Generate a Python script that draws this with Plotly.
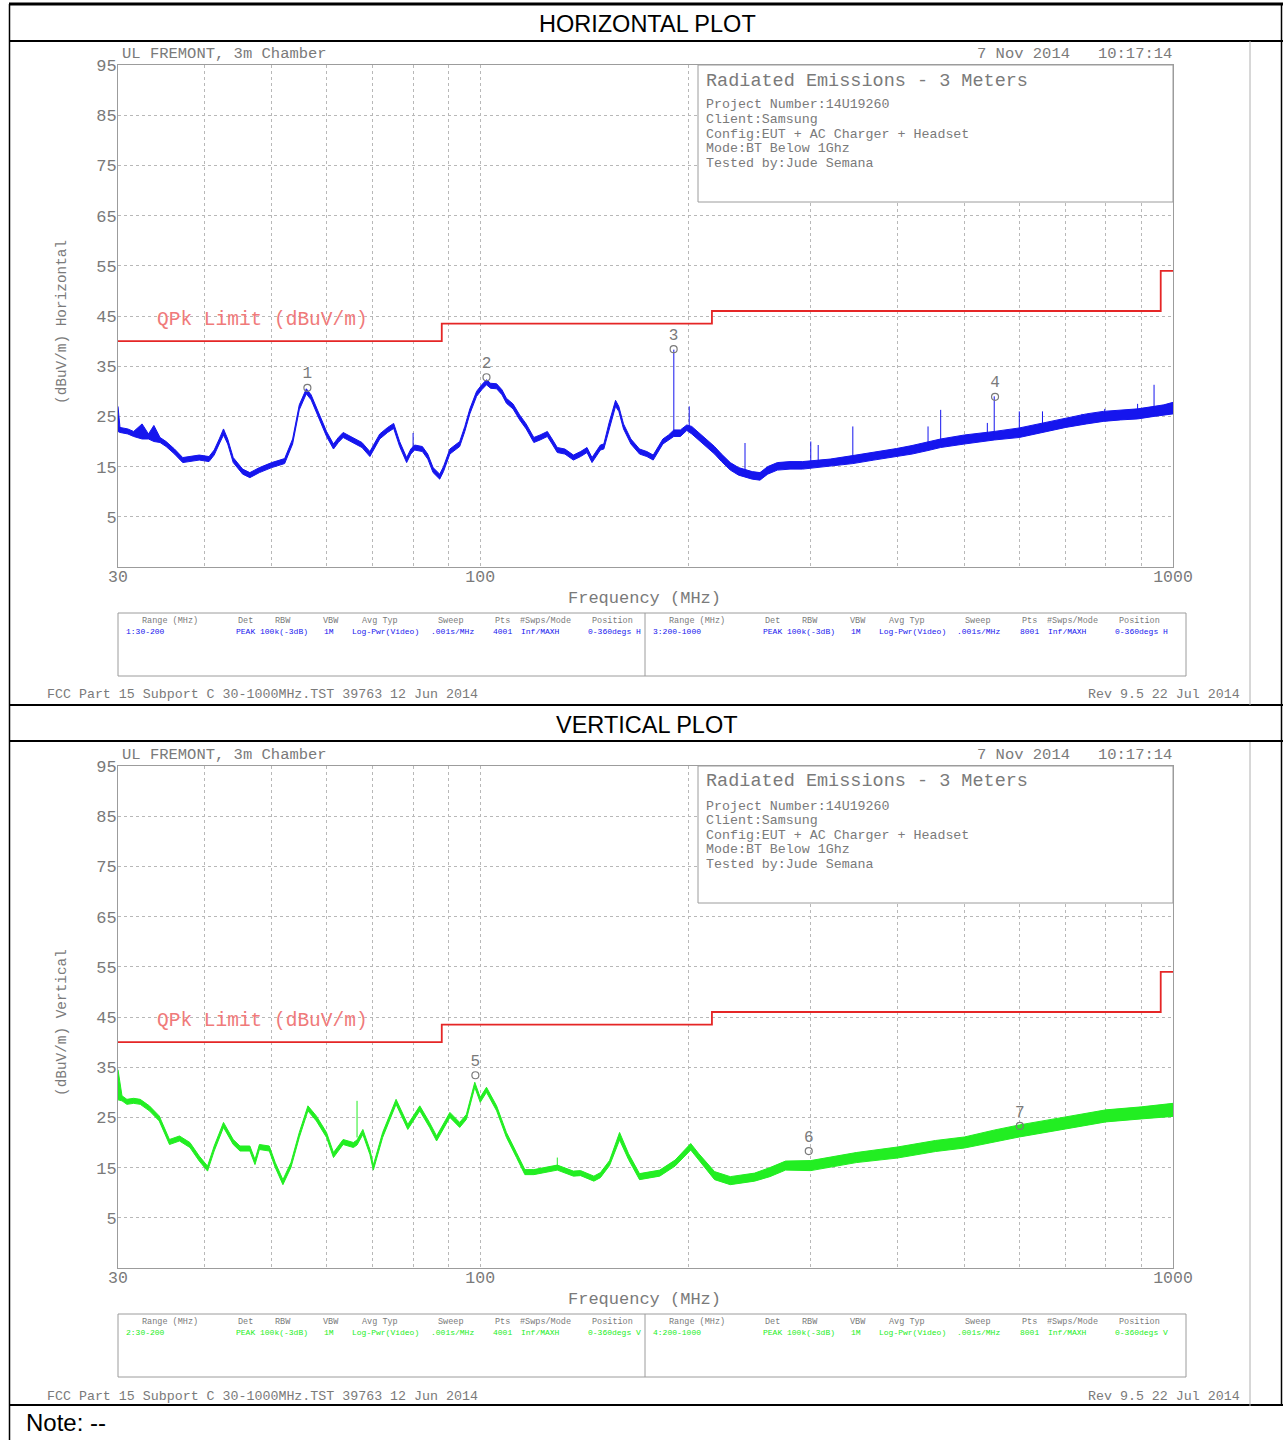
import math
import plotly.graph_objects as go

# ---------------- data ----------------
# grid / tick definition (MHz)
grid_f = [30, 40, 50, 60, 70, 80, 90, 100, 200, 300, 400, 500, 600, 700, 800, 900, 1000]
grid_lbl = ["30", "", "", "", "", "", "", "100", "", "", "", "", "", "", "", "", "1000"]
y_ticks = [5, 15, 25, 35, 45, 55, 65, 75, 85, 95]

# QPk limit (dBuV/m)
lim_f = [30, 88, 88, 216, 216, 960, 960, 1000]
lim_v = [40, 40, 43.5, 43.5, 46, 46, 54, 54]

# Horizontal trace: frequency (MHz), lower and upper edge of the trace band (dBuV/m)
h_f = [30.0, 30.2, 31.0, 31.6, 32.5, 33.2, 33.8, 34.5, 35.2, 36.2, 37.2, 38.2, 39.3, 40.6,
       41.3, 42.0, 42.6, 43.2, 44.0, 45.4, 46.5, 48.0, 50.0, 52.2, 53.6, 54.8, 56.1, 57.0,
       58.0, 59.0, 60.0, 61.4, 62.4, 63.4, 65.6, 67.5, 69.3, 70.5, 71.6, 73.5, 75.0, 76.5,
       78.3, 79.4, 80.4, 82.5, 84.0, 85.5, 87.4, 88.5, 90.4, 93.4, 95.0, 96.6, 98.8, 100.5,
       102.1, 103.5, 105.6, 107.5, 109.1, 111.5, 114.0, 116.5, 119.5, 122.0, 125.0, 127.0,
       129.2, 132.5, 136.3, 139.6, 142.6, 145.0, 149.1, 150.8, 153.5, 156.8, 158.5, 161.0,
       165.0, 169.8, 174.0, 177.7, 183.5, 187.0, 190.3, 194.5, 198.7, 202.0, 206.7, 212.0,
       217.9, 223.0, 229.6, 236.0, 241.9, 247.0, 253.4, 260.0, 268.5, 280.0, 291.9, 305.0,
       320.0, 345.0, 370.0, 399.0, 420.0, 442.9, 461.9, 500.0, 530.0, 552.0, 600.0, 648.0,
       700.0, 750.0, 793.0, 840.0, 889.0, 939.0, 970.0, 1000.0]
h_lo = [22.0, 21.8, 21.5, 21.0, 20.5, 20.5, 20.0, 19.8, 19.0, 17.5, 15.8, 16.0, 16.3, 16.0,
        17.3, 19.5, 21.3, 19.5, 15.8, 13.5, 12.8, 13.8, 14.8, 15.6, 19.5, 26.3, 29.5, 28.3,
        25.8, 23.5, 21.0, 18.5, 19.8, 20.8, 19.8, 18.8, 17.0, 19.0, 20.5, 21.8, 22.6, 19.0,
        15.8, 17.5, 18.3, 18.0, 16.5, 13.8, 12.5, 14.0, 17.5, 19.0, 22.0, 25.5, 29.0, 30.3,
        31.3, 30.6, 30.5, 29.3, 27.6, 26.5, 24.3, 22.5, 19.8, 20.3, 21.0, 19.5,
        17.8, 17.5, 16.3, 17.0, 17.8, 15.8, 18.3, 18.5, 22.5, 27.0, 26.0, 22.5,
        19.5, 17.5, 17.0, 16.3, 19.5, 20.3, 21.0, 21.0, 22.2, 21.5, 20.3, 19.0,
        17.5, 16.0, 14.3, 13.3, 12.8, 12.5, 12.3, 13.5, 14.3, 14.5, 14.5, 14.8,
        15.0, 15.6, 16.3, 17.0, 17.5, 18.2, 18.8, 19.5, 20.0, 20.3, 20.8, 21.8,
        22.8, 23.5, 24.0, 24.3, 24.5, 25.0, 25.3, 25.5]
h_hi = [27.0, 22.8, 22.5, 22.0, 23.5, 21.5, 23.2, 20.8, 20.0, 18.5, 16.8, 17.0, 17.3, 17.0,
        18.3, 20.5, 22.5, 20.5, 16.8, 14.5, 13.8, 14.8, 15.8, 16.6, 20.5, 27.3, 30.5, 29.3,
        26.8, 24.5, 22.0, 19.5, 20.8, 21.8, 20.8, 19.8, 18.0, 20.0, 21.5, 22.8, 23.6, 20.0,
        16.8, 18.5, 19.3, 19.0, 17.5, 14.8, 13.5, 15.0, 18.5, 20.0, 23.0, 26.5, 30.0, 31.3,
        32.3, 31.6, 31.5, 30.3, 28.6, 27.5, 25.3, 23.5, 20.8, 21.3, 22.0, 20.5,
        18.8, 18.5, 17.3, 18.0, 18.8, 16.8, 19.3, 19.5, 23.8, 28.2, 27.0, 23.5,
        20.5, 18.5, 18.0, 17.3, 20.5, 21.3, 22.3, 22.3, 23.3, 23.0, 21.8, 20.5,
        19.0, 17.5, 15.8, 14.8, 14.3, 14.0, 13.8, 15.0, 15.8, 16.0, 16.0, 16.3,
        16.5, 17.2, 17.8, 18.6, 19.2, 19.9, 20.5, 21.3, 21.8, 22.0, 22.7, 23.7,
        24.7, 25.5, 26.0, 26.3, 26.5, 27.0, 27.3, 27.8]
# narrow spikes on the horizontal trace
h_sp_f = [80.0, 190.3, 200.3, 241.1, 300.0, 307.5, 345.0, 443.0, 462.0, 539.5, 552.0,
          600.0, 648.0, 739.0, 797.0, 889.0, 939.0]
h_sp_base = [18.5, 21.5, 22.5, 14.0, 15.3, 15.3, 16.5, 19.0, 19.7, 21.0, 21.0,
             21.7, 22.7, 24.0, 25.0, 25.5, 26.0]
h_sp_top = [21.7, 38.3, 27.0, 19.7, 20.0, 19.3, 23.0, 23.0, 26.3, 23.7, 29.0,
            26.0, 26.0, 25.5, 26.5, 27.5, 31.3]
# measured markers (horizontal)
h_mk_id = ["1", "2", "3", "4"]
h_mk_f = [56.3, 102.1, 190.2, 553.5]
h_mk_v = [30.7, 32.8, 38.4, 28.9]

# Vertical trace
v_f = [30.0, 30.4, 30.9, 31.6, 32.3, 33.3, 34.4, 35.0, 35.6, 36.8, 38.1, 39.3, 40.4, 41.3,
       42.6, 44.0, 45.0, 46.5, 47.3, 48.0, 49.6, 50.6, 51.9, 53.3, 54.8, 56.4, 58.0, 60.0,
       61.4, 63.4, 65.6, 66.4, 67.7, 69.3, 70.1, 72.3, 75.6, 78.6, 81.8, 84.5, 86.5, 90.4,
       93.4, 95.5, 98.2, 100.0, 102.1, 105.6, 109.1, 112.8, 116.0, 119.5, 124.0, 129.2,
       136.3, 139.6, 145.9, 149.1, 153.7, 158.9, 163.7, 169.8, 181.6, 191.1, 201.3, 206.7,
       217.9, 229.6, 248.9, 261.9, 275.9, 300.0, 349.0, 400.0, 454.0, 500.0, 553.0, 600.0,
       700.0, 800.0, 900.0, 1000.0]
v_lo = [28.5, 28.3, 27.6, 27.8, 27.6, 26.3, 24.3, 22.0, 19.6, 20.3, 19.0, 16.3, 14.3, 18.3,
        23.0, 19.6, 18.3, 18.3, 15.6, 18.6, 18.3, 15.0, 11.6, 15.0, 21.0, 26.3, 24.3, 21.0,
        17.0, 19.6, 19.0, 19.5, 21.6, 17.6, 14.5, 21.0, 27.6, 22.6, 26.3, 23.0, 20.3, 25.0,
        23.0, 24.6, 31.0, 28.0, 30.0, 26.3, 21.0, 17.0, 13.6, 13.6, 14.0, 14.5,
        13.3, 13.4, 12.3, 13.0, 15.4, 20.5, 16.6, 12.6, 13.3, 15.3, 18.5, 16.5,
        12.6, 11.6, 12.3, 13.2, 14.5, 14.4, 16.0, 16.9, 18.2, 18.9, 20.1, 21.1,
        22.7, 24.1, 24.7, 25.2]
v_hi = [34.5, 29.3, 28.6, 28.8, 28.6, 27.3, 25.3, 23.0, 20.6, 21.3, 20.0, 17.3, 15.3, 19.3,
        24.0, 20.6, 19.3, 19.3, 16.6, 19.6, 19.3, 16.0, 12.6, 16.0, 22.0, 27.3, 25.3, 22.0,
        18.0, 20.6, 20.0, 20.5, 22.6, 18.6, 15.5, 22.0, 28.6, 23.6, 27.3, 24.0, 21.3, 26.0,
        24.0, 25.6, 32.0, 29.0, 31.0, 27.3, 22.0, 18.0, 14.6, 14.6, 15.0, 15.5,
        14.3, 14.4, 13.3, 14.0, 16.4, 22.0, 17.8, 13.8, 14.5, 16.5, 19.8, 17.8,
        14.2, 13.2, 13.9, 15.0, 16.3, 16.4, 18.0, 19.1, 20.4, 21.1, 22.5, 23.5,
        25.1, 26.5, 27.1, 27.8]
v_sp_f = [66.4, 129.2]
v_sp_base = [21.0, 15.3]
v_sp_top = [28.3, 17.0]
v_mk_id = ["5", "6", "7"]
v_mk_f = [98.4, 298.0, 601.0]
v_mk_v = [33.4, 18.3, 23.3]

# texts
hdr_left = "UL FREMONT, 3m Chamber"
hdr_right = "7 Nov 2014   10:17:14"
box_title = "Radiated Emissions - 3 Meters"
box_lines = ["Project Number:14U19260", "Client:Samsung", "Config:EUT + AC Charger + Headset",
             "Mode:BT Below 1Ghz", "Tested by:Jude Semana"]
footer_left = "FCC Part 15 Subport C 30-1000MHz.TST 39763 12 Jun 2014"
footer_right = "Rev 9.5 22 Jul 2014"
tbl_head = ["Range (MHz)", "Det", "RBW", "VBW", "Avg Typ", "Sweep", "Pts", "#Swps/Mode", "Position"]
tbl_h1 = ["1:30-200", "PEAK", "100k(-3dB)", "1M", "Log-Pwr(Video)", ".001s/MHz", "4001", "Inf/MAXH", "0-360degs H"]
tbl_h2 = ["3:200-1000", "PEAK", "100k(-3dB)", "1M", "Log-Pwr(Video)", ".001s/MHz", "8001", "Inf/MAXH", "0-360degs H"]
tbl_v1 = ["2:30-200", "PEAK", "100k(-3dB)", "1M", "Log-Pwr(Video)", ".001s/MHz", "4001", "Inf/MAXH", "0-360degs V"]
tbl_v2 = ["4:200-1000", "PEAK", "100k(-3dB)", "1M", "Log-Pwr(Video)", ".001s/MHz", "8001", "Inf/MAXH", "0-360degs V"]

# ---------------- figure ----------------
W, H = 1283, 1440
MONO = "Liberation Mono, DejaVu Sans Mono, monospace"
GRAY = "#7a7a7a"
BLUE = "#1515ee"
GREEN = "#22ee22"
RED = "#e52626"


def px(x):
    return x / W


def py(y):
    return 1 - y / H


fig = go.Figure()


def add_panel(xa, ya, f, lo, hi, spf, spb, spt, mkid, mkf, mkv, col):
    fig.add_trace(go.Scatter(x=lim_f, y=lim_v, mode="lines", line=dict(color=RED, width=1.8),
                             xaxis=xa, yaxis=ya, hoverinfo="skip"))
    fig.add_trace(go.Scatter(x=f, y=lo, mode="lines", line=dict(color=col, width=1),
                             xaxis=xa, yaxis=ya, hoverinfo="skip"))
    fig.add_trace(go.Scatter(x=f, y=hi, mode="lines", line=dict(color=col, width=1),
                             fill="tonexty", fillcolor=col, xaxis=xa, yaxis=ya, hoverinfo="skip"))
    sx, sy = [], []
    for a, b, c in zip(spf, spb, spt):
        sx += [a, a, None]
        sy += [b, c, None]
    fig.add_trace(go.Scatter(x=sx, y=sy, mode="lines", line=dict(color=col, width=1),
                             xaxis=xa, yaxis=ya, hoverinfo="skip"))
    fig.add_trace(go.Scatter(x=mkf, y=mkv, mode="markers+text", text=mkid,
                             textposition="top center",
                             textfont=dict(family=MONO, size=16, color=GRAY),
                             marker=dict(symbol="circle-open", size=7, color=GRAY, line=dict(width=1.2)),
                             xaxis=xa, yaxis=ya, hoverinfo="skip"))


add_panel("x", "y", h_f, h_lo, h_hi, h_sp_f, h_sp_base, h_sp_top, h_mk_id, h_mk_f, h_mk_v, BLUE)
add_panel("x2", "y2", v_f, v_lo, v_hi, v_sp_f, v_sp_base, v_sp_top, v_mk_id, v_mk_f, v_mk_v, GREEN)

xcommon = dict(type="log", range=[math.log10(30), 3], tickmode="array", tickvals=grid_f,
               ticktext=grid_lbl, showgrid=True, gridcolor="#b8b8b8", griddash="dot", gridwidth=1,
               showline=True, linecolor="#9c9c9c", linewidth=1, mirror=True, zeroline=False,
               ticks="", tickfont=dict(family=MONO, size=16.5, color=GRAY), automargin=False,
               ticklabelstandoff=-6, domain=[px(118), px(1173)])
ycommon = dict(range=[-5, 95], tickmode="array", tickvals=y_ticks, showgrid=True,
               gridcolor="#b8b8b8", griddash="dot", gridwidth=1, showline=True,
               linecolor="#9c9c9c", linewidth=1, mirror=True, zeroline=False, ticks="",
               tickfont=dict(family=MONO, size=17, color=GRAY), automargin=False,
               ticklabelstandoff=-3)

fig.update_layout(
    width=W, height=H, margin=dict(l=0, r=0, t=0, b=0), template="none",
    paper_bgcolor="white", plot_bgcolor="white", showlegend=False,
    xaxis=dict(xcommon, anchor="y"),
    yaxis=dict(ycommon, anchor="x", domain=[py(567), py(65)]),
    xaxis2=dict(xcommon, anchor="y2"),
    yaxis2=dict(ycommon, anchor="x2", domain=[py(1268), py(766)]),
)

shapes = []
ann = []


def hline(y, x0, x1, color="black", width=1):
    shapes.append(dict(type="line", xref="paper", yref="paper", x0=px(x0), x1=px(x1),
                       y0=py(y), y1=py(y), line=dict(color=color, width=width), layer="above"))


def vline(x, y0, y1, color="black", width=1):
    shapes.append(dict(type="line", xref="paper", yref="paper", x0=px(x), x1=px(x),
                       y0=py(y0), y1=py(y1), line=dict(color=color, width=width), layer="above"))


def rect(x0, y0, x1, y1, color="#9c9c9c", fill="white"):
    shapes.append(dict(type="rect", xref="paper", yref="paper", x0=px(x0), x1=px(x1),
                       y0=py(y1), y1=py(y0), line=dict(color=color, width=1), fillcolor=fill,
                       layer="above"))


def text(x, y, s, size, color=GRAY, family=MONO, xanchor="left", angle=0):
    ann.append(dict(xref="paper", yref="paper", x=px(x), y=py(y), text=s, showarrow=False,
                    xanchor=xanchor, yanchor="middle", textangle=angle,
                    font=dict(family=family, size=size, color=color)))


# page frame
hline(4, 9, 1283, width=3)
hline(41, 9, 1283, width=2)
hline(705, 9, 1283, width=2)
hline(741, 9, 1283, width=2)
hline(1405, 9, 1283, width=2)
vline(9.5, 4, 1440, width=1.5)
vline(1281.5, 4, 1405, width=1.5)

SANS = "Liberation Sans, Arial, sans-serif"
text(647, 24, "HORIZONTAL PLOT", 23.5, "black", SANS, "center")
text(647, 725, "VERTICAL PLOT", 23.5, "black", SANS, "center")
text(24, 1422, "Note: --", 24, "black", SANS, "left")

head_x = [170, 245, 283, 331, 380, 451, 502, 545, 612]
val_x = [124, 245.5, 283.5, 328.5, 385, 452, 502.5, 540, 614]
half = 527

for off, axis_title, t1, t2, col in [(0, "(dBuV/m) Horizontal", tbl_h1, tbl_h2, BLUE),
                                      (701, "(dBuV/m) Vertical", tbl_v1, tbl_v2, GREEN)]:
    vline(1250, 41 + off, 705 + off, color="#b0b0b0", width=1)
    text(120, 54 + off, hdr_left, 15.5)
    text(1174, 54 + off, hdr_right, 15.5, xanchor="right")
    rect(698, 65 + off, 1173, 202 + off)
    text(704, 81 + off, box_title, 18.5)
    for i, s in enumerate(box_lines):
        text(704, 105 + off + i * 14.6, s, 13.3)
    text(62, 322 + off, axis_title, 14.4, xanchor="center", angle=-90)
    text(155, 320 + off, "QPk Limit (dBuV/m)", 19.5, color="#f07a7a")
    text(644, 598 + off, "Frequency (MHz)", 17, xanchor="center")
    rect(118, 613 + off, 1186, 676 + off)
    vline(645, 613 + off, 676 + off, color="#9c9c9c")
    for i, s in enumerate(tbl_head):
        text(head_x[i], 621 + off, s, 8.5, xanchor="center")
        text(head_x[i] + half, 621 + off, s, 8.5, xanchor="center")
    for i, s in enumerate(t1):
        text(val_x[i], 631 + off, s, 8, color=col, xanchor="left" if i == 0 else "center")
    for i, s in enumerate(t2):
        text(val_x[i] + half, 631 + off, s, 8, color=col, xanchor="left" if i == 0 else "center")
    text(45, 695 + off, footer_left, 13.3)
    text(1242, 695 + off, footer_right, 13.3, xanchor="right")

fig.update_layout(shapes=shapes, annotations=ann)
fig.write_html("out.html", config={"displayModeBar": False},
               post_script="document.body.style.margin='0';")
